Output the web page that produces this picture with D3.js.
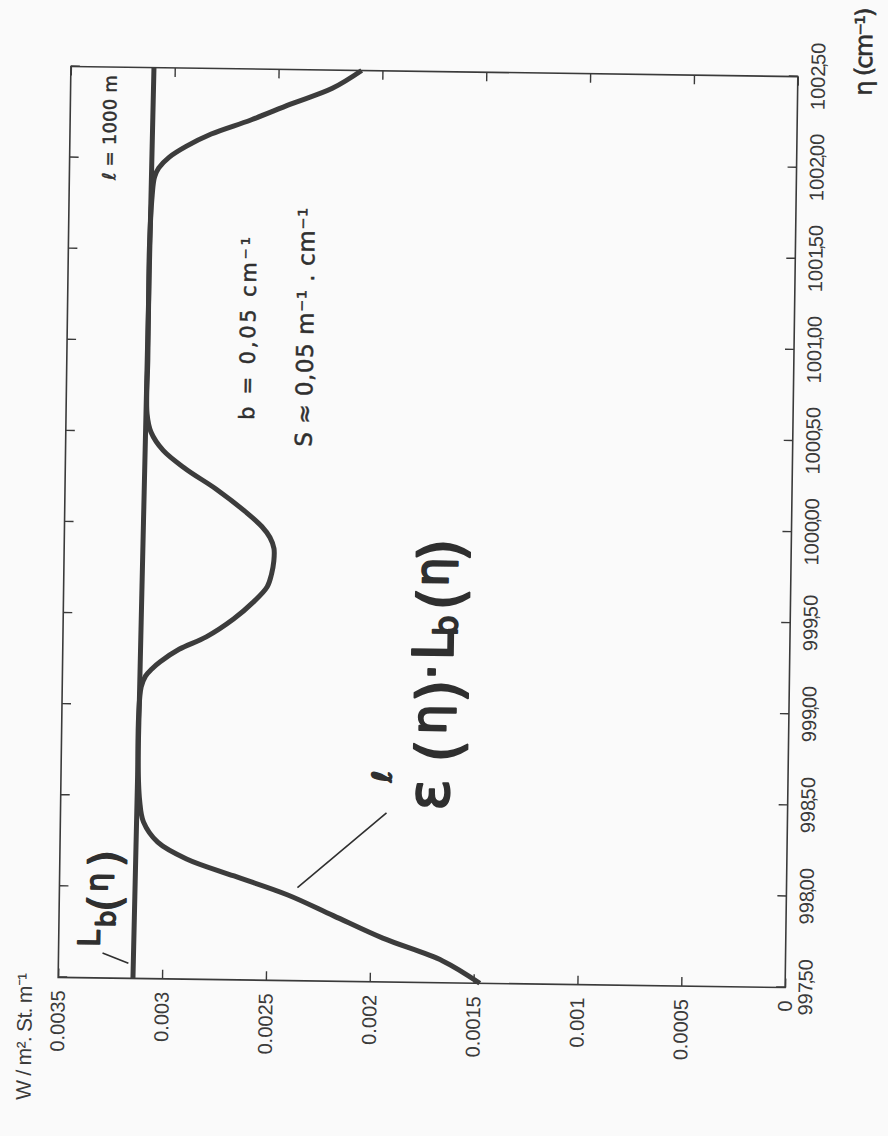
<!DOCTYPE html>
<html>
<head>
<meta charset="utf-8">
<script src="https://cdn.jsdelivr.net/npm/d3@7"></script>
<style>
  html, body { margin: 0; padding: 0; background: #fafafa; }
  svg { display: block; }
</style>
</head>
<body>
<svg id="chart" width="888" height="1136"></svg>
<script>
// Wavenumber axis (printed values) and spectral radiance axis ticks
const nuTicks = [99750, 99800, 99850, 99900, 99950, 100000, 100050, 100100, 100150, 100200, 100250];
const radianceTicks = [0, 0.0005, 0.001, 0.0015, 0.002, 0.0025, 0.003, 0.0035];

// Blackbody radiance L_b
const blackbodyNu = [99750, 100000, 100250];
const blackbodyL  = [0.00314, 0.00312, 0.00310];

// Emitted radiance eps^l * L_b
const emittedNu = [99750, 99762, 99774, 99786, 99797, 99807, 99816, 99825, 99836, 99848,
                   99870, 99895, 99910, 99916, 99920, 99924, 99931, 99938, 99948, 99957,
                   99966, 99973, 99980, 99987, 99993, 99999, 100007, 100019, 100030, 100040,
                   100050, 100060, 100090, 100120, 100150, 100180, 100190, 100195, 100201, 100207,
                   100214, 100222, 100231, 100240, 100250];
const emittedL  = [0.00147, 0.00165, 0.00194, 0.00218, 0.00240, 0.00266, 0.00289, 0.00303, 0.00310, 0.00312,
                   0.00313, 0.00313, 0.00312, 0.00310, 0.00307, 0.00303, 0.00294, 0.00281, 0.00268, 0.00259,
                   0.00252, 0.00250, 0.00249, 0.00249, 0.00251, 0.00255, 0.00263, 0.00277, 0.00292, 0.00303,
                   0.00309, 0.00311, 0.00311, 0.00311, 0.00311, 0.00310, 0.00309, 0.00307, 0.00302, 0.00294,
                   0.00282, 0.00263, 0.00244, 0.00224, 0.00210];

const W = 911, H = 727;
const ink = "#3a3a3a";
const pen = "#2f2f2f";
const printFont = "'Liberation Sans', Arial, sans-serif";
const handFont = "'DejaVu Sans', 'Noto Sans', sans-serif";

const svg = d3.select("#chart");
svg.append("rect").attr("width", 888).attr("height", 1136).attr("fill", "#fafafa");

// The sheet is laid sideways: wavenumber runs up the page, radiance runs to the left
const page = svg.append("g")
  .attr("transform", "rotate(0.8 428 527) translate(64.5 982.5) rotate(-90)");

const x = d3.scaleLinear().domain([99750, 100250]).range([0, W]);
const y = d3.scaleLinear().domain([0, 0.0035]).range([H, 0]);

function styleAxis(g) {
  g.select(".domain").remove();
  g.selectAll(".tick line").attr("stroke", ink).attr("stroke-width", 1.4);
  g.selectAll(".tick text")
    .attr("fill", ink)
    .style("font-family", printFont)
    .style("font-size", "20px");
}

// Bottom axis: wavenumber labels with a hand-added decimal comma
const gx = page.append("g")
  .attr("transform", `translate(0,${H})`)
  .call(d3.axisBottom(x).tickValues(nuTicks).tickSize(-9).tickSizeOuter(0)
        .tickPadding(13).tickFormat(d3.format("d")))
  .call(styleAxis);
gx.selectAll(".tick text").each(function (d) {
  const s = String(d);
  const t = d3.select(this).text(null);
  t.append("tspan").text(s.slice(0, -2));
  t.append("tspan").attr("dx", -2.5).text(",");
  t.append("tspan").attr("dx", -2.5).text(s.slice(-2));
});

// Top mirror ticks
page.append("g")
  .call(d3.axisTop(x).tickValues(nuTicks).tickSize(-9).tickSizeOuter(0).tickFormat(""))
  .call(styleAxis);

// Left axis: radiance
page.append("g")
  .call(d3.axisLeft(y).tickValues(radianceTicks).tickSize(-9).tickSizeOuter(0)
        .tickPadding(13).tickFormat(d => d === 0 ? "0" : d3.format(".4~f")(d)))
  .call(styleAxis);

// Right mirror ticks
page.append("g")
  .attr("transform", `translate(${W},0)`)
  .call(d3.axisRight(y).tickValues(radianceTicks).tickSize(-9).tickSizeOuter(0).tickFormat(""))
  .call(styleAxis);

// Frame
page.append("rect")
  .attr("width", W).attr("height", H)
  .attr("fill", "none").attr("stroke", ink).attr("stroke-width", 1.6);

// Curves
const line = d3.line().x(d => x(d[0])).y(d => y(d[1])).curve(d3.curveCatmullRom.alpha(0.5));

page.append("path")
  .datum(blackbodyNu.map((n, i) => [n, blackbodyL[i]]))
  .attr("d", line)
  .attr("fill", "none").attr("stroke", "#3c3c3c").attr("stroke-width", 5);

page.append("path")
  .datum(emittedNu.map((n, i) => [n, emittedL[i]]))
  .attr("d", line)
  .attr("fill", "none").attr("stroke", "#3c3c3c").attr("stroke-width", 5)
  .attr("stroke-linejoin", "round");

// Axis titles
page.append("text")
  .attr("x", -123).attr("y", -26)
  .attr("textLength", 127).attr("lengthAdjust", "spacing")
  .attr("fill", ink).style("font-family", printFont).style("font-size", "21px")
  .text("W / m². St. m⁻¹");

page.append("text")
  .attr("x", 893).attr("y", 801)
  .attr("textLength", 88).attr("lengthAdjust", "spacing")
  .attr("fill", pen).attr("stroke", pen).attr("stroke-width", 0.6)
  .style("font-family", handFont).style("font-size", "24px")
  .text("η (cm⁻¹)");

// Hand-written annotations
function glyphs(items, weight) {
  const t = page.append("text")
    .attr("fill", pen).attr("stroke", pen).attr("stroke-width", weight)
    .attr("stroke-linejoin", "round")
    .style("font-family", handFont);
  items.forEach(g => {
    t.append("tspan").attr("x", g.x).attr("y", g.y)
      .style("font-size", g.size + "px").text(g.t);
  });
  return t;
}

function note(txt, x0, y0, len, size) {
  page.append("text")
    .attr("x", x0).attr("y", y0)
    .attr("textLength", len).attr("lengthAdjust", "spacing")
    .attr("fill", pen).attr("stroke", pen).attr("stroke-width", 0.5)
    .style("font-family", handFont).style("font-size", size + "px")
    .text(txt);
}

note("ℓ = 1000 m", 798, 46, 105, 18);
note("b = 0,05 cm⁻¹", 560, 188, 183, 21);
note("S ≈ 0,05 m⁻¹ . cm⁻¹", 534, 246, 239, 23);

// L_b(η) label with its pointer
glyphs([
  { t: "L", x: 31, y: 41, size: 30 },
  { t: "b", x: 51, y: 56, size: 26 },
  { t: "(", x: 66, y: 61, size: 44 },
  { t: "η", x: 86, y: 48, size: 30 },
  { t: ")", x: 111, y: 61, size: 44 }
], 1.6);
page.append("line")
  .attr("x1", 15).attr("y1", 70).attr("x2", 25).attr("y2", 44)
  .attr("stroke", pen).attr("stroke-width", 1.6);

// eps^l(η) · L_b(η) label with its pointer
glyphs([
  { t: "ε", x: 172, y: 388, size: 58 },
  { t: "ℓ", x: 200, y: 330, size: 26 },
  { t: "(", x: 220, y: 398, size: 60 },
  { t: "η", x: 248, y: 384, size: 48 },
  { t: ")", x: 280, y: 398, size: 60 },
  { t: "·", x: 302, y: 388, size: 54 },
  { t: "L", x: 322, y: 390, size: 56 },
  { t: "b", x: 347, y: 394, size: 32 },
  { t: "(", x: 372, y: 398, size: 60 },
  { t: "η", x: 396, y: 384, size: 46 },
  { t: ")", x: 421, y: 398, size: 60 }
], 2);
page.append("line")
  .attr("x1", 93).attr("y1", 238).attr("x2", 169).attr("y2", 326)
  .attr("stroke", pen).attr("stroke-width", 1.6);
</script>
</body>
</html>
